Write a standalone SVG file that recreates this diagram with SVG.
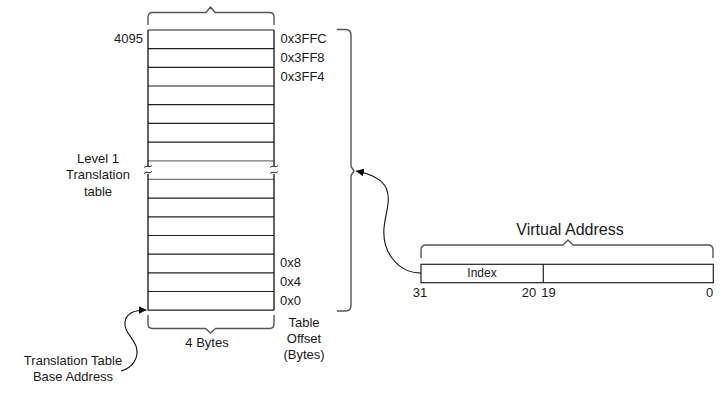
<svg xmlns="http://www.w3.org/2000/svg" width="720" height="403" viewBox="0 0 720 403">
<style>
text{font-family:"Liberation Sans",Arial,sans-serif;fill:#1a1a1a;font-size:13px}
.row{stroke:#222;stroke-width:1.2;fill:none}
.side{stroke:#111;stroke-width:1.3;fill:none}
.brace{stroke:#555;stroke-width:1.4;fill:none;stroke-linejoin:round}
.conn{stroke:#111;stroke-width:1.1;fill:none}
.mid{text-anchor:middle}
</style>
<defs>
<marker id="ah" viewBox="0 0 10 10" refX="10" refY="5" markerWidth="8" markerHeight="8" markerUnits="userSpaceOnUse" orient="auto">
<path d="M0,0 L10,5 L0,10 Z" fill="#000"/>
</marker>
</defs>
<rect width="720" height="403" fill="#fff"/>

<g id="table">
<path class="row" d="M148,30H274 M148,48.7H274 M148,67.4H274 M148,86H274 M148,104.7H274 M148,123.4H274 M148,142.1H274 M148,198.1H274 M148,216.8H274 M148,235.5H274 M148,254.2H274 M148,272.8H274 M148,291.5H274 M148,310.2H274"/>
<path d="M148,160.8H274 M148,179.4H274" stroke="#777" stroke-width="1.2" fill="none"/>
<path class="side" d="M148,30V166 M148,174V310.2 M274,30V166 M274,174V310.2"/>
<path d="M144,167.5 Q146,165.5 148,166.5 T152,165.5 M144,173.5 Q146,171.5 148,172.5 T152,171.5 M270,167.5 Q272,165.5 274,166.5 T278,165.5 M270,173.5 Q272,171.5 274,172.5 T278,171.5" stroke="#333" stroke-width="1" fill="none"/>
</g>

<g id="top-brace">
<path class="brace" d="M148,25 V17 Q148,12.5 152.5,12.5 H206 L210.5,7 L215,12.5 H269.5 Q274,12.5 274,17 V25"/>
</g>
<g id="bottom-brace">
<path class="brace" d="M148,315 V324 Q148,328.5 152.5,328.5 H205.5 L210.5,333 L215.5,328.5 H269.5 Q274,328.5 274,324 V315"/>
</g>
<g id="right-brace">
<path class="brace" d="M337,29.5 H345.5 Q351,29.5 351,35 V166.5 L354,171 L351,175.5 V305.5 Q351,311 345.5,311 H337"/>
</g>

<g id="labels-left">
<text x="143" y="42.7" text-anchor="end">4095</text>
<text class="mid" x="98" y="162.5">Level 1</text>
<text class="mid" x="98" y="179">Translation</text>
<text class="mid" x="98" y="195.5">table</text>
<text class="mid" x="207" y="347">4 Bytes</text>
<text class="mid" x="73" y="365">Translation Table</text>
<text class="mid" x="73" y="381">Base Address</text>
</g>

<g id="offsets">
<text x="280.5" y="42.7">0x3FFC</text>
<text x="280.5" y="62">0x3FF8</text>
<text x="280.5" y="80.7">0x3FF4</text>
<text x="280" y="267">0x8</text>
<text x="280" y="286">0x4</text>
<text x="280" y="304.7">0x0</text>
<text class="mid" x="304" y="326.5">Table</text>
<text class="mid" x="304" y="342.5">Offset</text>
<text class="mid" x="304" y="358.5">(Bytes)</text>
</g>

<g id="virtual-address">
<text class="mid" x="570" y="235" style="font-size:16px">Virtual Address</text>
<path class="brace" d="M421,258 V250 Q421,245 426,245 H563 L568,240 L573,245 H708 Q713,245 713,250 V258"/>
<rect x="421" y="264.3" width="292.3" height="18.4" fill="#fff" stroke="#222" stroke-width="1.2"/>
<line x1="543.3" y1="264.3" x2="543.3" y2="282.7" stroke="#222" stroke-width="1.2"/>
<text class="mid" x="482" y="277.3" style="font-size:12px">Index</text>
<text class="mid" x="420" y="297">31</text>
<text class="mid" x="529" y="297">20</text>
<text class="mid" x="548.5" y="297">19</text>
<text class="mid" x="709.5" y="297">0</text>
</g>

<g id="connectors">
<path class="conn" d="M421,273 C398,273 382,252 384,228 C386,205 402,180 356,171" marker-end="url(#ah)"/>
<path class="conn" d="M121,371 C132,368 140,358 136,346 C132,336 124,332 125,322 C126,313 134,310 146.5,310" marker-end="url(#ah)"/>
</g>
</svg>
